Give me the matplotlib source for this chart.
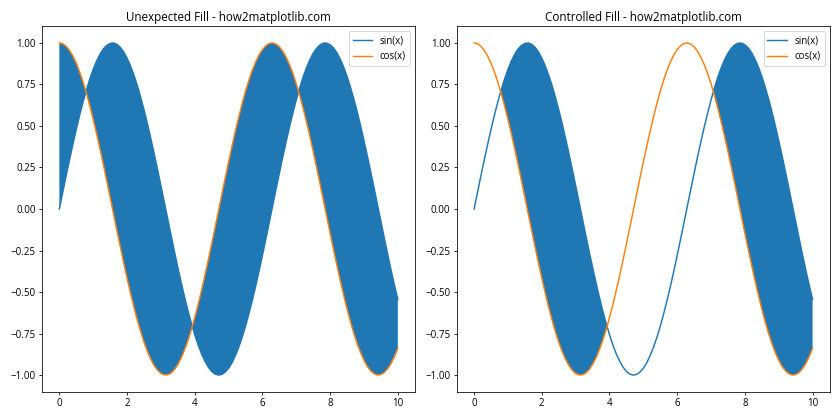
import matplotlib
matplotlib.use("Agg")
import matplotlib.pyplot as plt
import numpy as np

plt.rcParams['font.family'] = ['Open Sans', 'DejaVu Sans']

# sample positions 0..10, step 0.1
x = [i / 10 for i in range(101)]

# values
y_sin = [0.000, 0.100, 0.199, 0.296, 0.389, 0.479, 0.565, 0.644, 0.717, 0.783,
         0.841, 0.891, 0.932, 0.964, 0.985, 0.997, 1.000, 0.992, 0.974, 0.946,
         0.909, 0.863, 0.808, 0.746, 0.675, 0.598, 0.516, 0.427, 0.335, 0.239,
         0.141, 0.042, -0.058, -0.158, -0.256, -0.351, -0.443, -0.530, -0.612, -0.688,
         -0.757, -0.818, -0.872, -0.916, -0.952, -0.978, -0.994, -1.000, -0.996, -0.982,
         -0.959, -0.926, -0.883, -0.832, -0.773, -0.706, -0.631, -0.551, -0.465, -0.374,
         -0.279, -0.182, -0.083, 0.017, 0.117, 0.215, 0.312, 0.405, 0.494, 0.578,
         0.657, 0.729, 0.794, 0.850, 0.899, 0.938, 0.968, 0.988, 0.999, 0.999,
         0.989, 0.970, 0.941, 0.902, 0.855, 0.799, 0.734, 0.663, 0.585, 0.501,
         0.412, 0.319, 0.223, 0.125, 0.025, -0.075, -0.174, -0.272, -0.367, -0.458,
         -0.544]
y_cos = [1.000, 0.995, 0.980, 0.955, 0.921, 0.878, 0.825, 0.765, 0.697, 0.622,
         0.540, 0.454, 0.362, 0.268, 0.170, 0.071, -0.029, -0.129, -0.227, -0.323,
         -0.416, -0.505, -0.589, -0.666, -0.737, -0.801, -0.857, -0.904, -0.942, -0.971,
         -0.990, -0.999, -0.998, -0.988, -0.967, -0.936, -0.897, -0.848, -0.791, -0.726,
         -0.654, -0.575, -0.490, -0.401, -0.307, -0.211, -0.112, -0.012, 0.088, 0.187,
         0.284, 0.378, 0.469, 0.554, 0.635, 0.709, 0.776, 0.835, 0.886, 0.928,
         0.960, 0.983, 0.997, 1.000, 0.993, 0.977, 0.950, 0.914, 0.869, 0.816,
         0.754, 0.685, 0.608, 0.526, 0.439, 0.347, 0.251, 0.153, 0.054, -0.046,
         -0.146, -0.244, -0.339, -0.431, -0.519, -0.602, -0.679, -0.749, -0.811, -0.865,
         -0.911, -0.948, -0.975, -0.992, -1.000, -0.997, -0.985, -0.962, -0.930, -0.889,
         -0.839]

x = np.array(x)
y_sin = np.array(y_sin)
y_cos = np.array(y_cos)

fig, (ax1, ax2) = plt.subplots(1, 2, figsize=(12, 6), dpi=70)

# fill everything between the two curves
ax1.plot(x, y_sin, label='sin(x)')
ax1.plot(x, y_cos, label='cos(x)')
ax1.fill_between(x, y_sin, y_cos)
ax1.set_title('Unexpected Fill - how2matplotlib.com')
ax1.legend()

# only fill where sin is above cos
ax2.plot(x, y_sin, label='sin(x)')
ax2.plot(x, y_cos, label='cos(x)')
ax2.fill_between(x, y_sin, y_cos, where=(y_sin > y_cos), interpolate=True)
ax2.set_title('Controlled Fill - how2matplotlib.com')
ax2.legend()

plt.tight_layout()
plt.savefig('out.png')
